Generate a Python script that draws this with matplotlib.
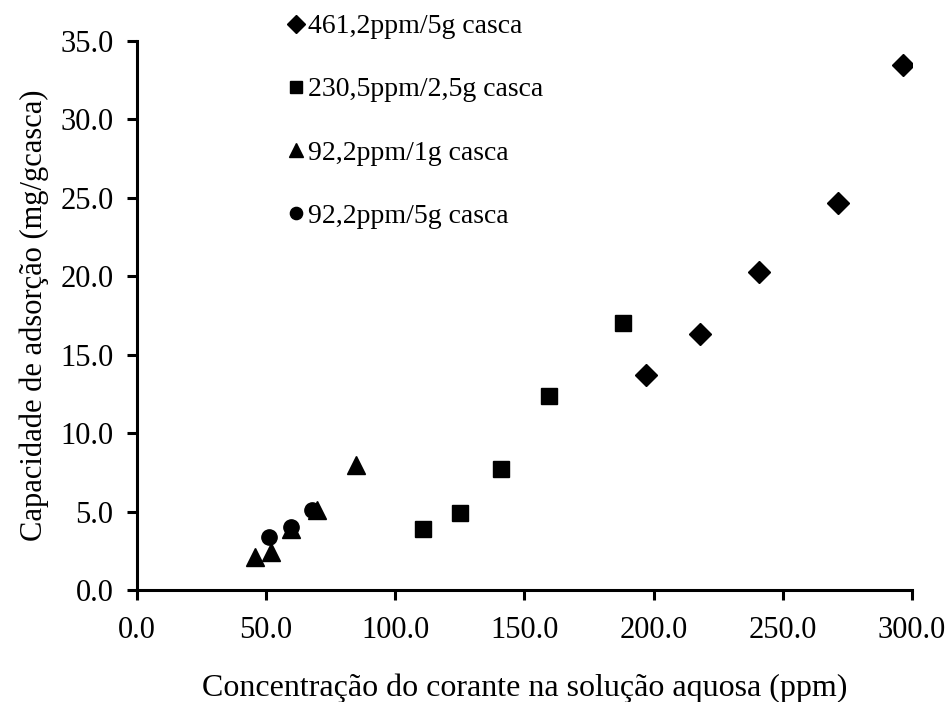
import matplotlib
matplotlib.use("Agg")
import matplotlib.pyplot as plt
from matplotlib.ticker import FormatStrFormatter, MultipleLocator

plt.rcParams['font.family'] = ['Liberation Serif', 'DejaVu Serif']

# Adsorption data: dye concentration (ppm) vs adsorption capacity (mg/g husk)
x_461 = [197.0, 218.0, 240.8, 271.4, 296.6]
y_461 = [13.7, 16.3, 20.3, 24.7, 33.5]

x_230 = [110.7, 125.0, 140.8, 159.5, 188.0]
y_230 = [3.9, 4.9, 7.7, 12.4, 17.0]

x_92_1 = [45.7, 52.0, 59.5, 69.7, 84.7]
y_92_1 = [2.1, 2.4, 3.9, 5.1, 8.0]

x_92_5 = [51.1, 59.5, 67.6]
y_92_5 = [3.36, 4.0, 5.1]

labels = ["461,2ppm/5g casca", "230,5ppm/2,5g casca",
          "92,2ppm/1g casca", "92,2ppm/5g casca"]

fig = plt.figure(figsize=(9.5, 7.02), dpi=100)
ax = fig.add_axes([0.1442, 0.1595, 0.8158, 0.7821])

h1, = ax.plot(x_461, y_461, 'D', color='black', ms=11, ls='none', label=labels[0])
h2, = ax.plot(x_230, y_230, 's', color='black', ms=11.5, ls='none', label=labels[1])
h3, = ax.plot(x_92_1, y_92_1, '^', color='black', ms=13, ls='none', label=labels[2])
h4, = ax.plot(x_92_5, y_92_5, 'o', color='black', ms=11, ls='none', label=labels[3])

ax.set_xlim(0, 300)
ax.set_ylim(0, 35)
ax.xaxis.set_major_locator(MultipleLocator(50))
ax.yaxis.set_major_locator(MultipleLocator(5))
ax.xaxis.set_major_formatter(FormatStrFormatter('%.1f'))
ax.yaxis.set_major_formatter(FormatStrFormatter('%.1f'))

for side in ('top', 'right'):
    ax.spines[side].set_visible(False)
for side in ('left', 'bottom'):
    ax.spines[side].set_linewidth(2.2)

ax.tick_params(axis='both', direction='out', length=7, width=2.2, labelsize=22)
ax.tick_params(axis='x', pad=12)
ax.tick_params(axis='y', pad=10)

ax.set_xlabel("Concentração do corante na solução aquosa (ppm)", fontsize=23, labelpad=20)
ax.set_ylabel("Capacidade de adsorção (mg/gcasca)", fontsize=22, labelpad=8)

leg = fig.legend(handles=[h1, h2, h3, h4], loc='upper left',
                 bbox_to_anchor=(0.272, 1.012), frameon=False, fontsize=20,
                 labelspacing=1.36, handletextpad=-0.1, handlelength=1.1,
                 markerscale=0.8, borderpad=0.3)

fig.savefig("out.png", dpi=100)
